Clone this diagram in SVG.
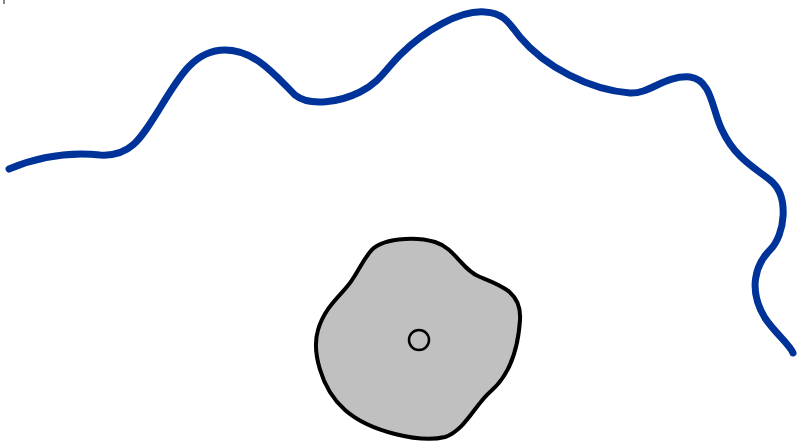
<svg xmlns="http://www.w3.org/2000/svg" width="799" height="444" viewBox="0 0 799 444">
<style>
.river{fill:none;stroke:#003399;stroke-width:7;stroke-linecap:round;stroke-linejoin:round}
.blob{fill:#c0c0c0;stroke:#000;stroke-width:4}
.dot{fill:none;stroke:#000;stroke-width:2.5}
</style>
<rect width="799" height="444" fill="#fff"/>
<line x1="4" y1="0" x2="4" y2="4" stroke="#888" stroke-width="2"/>
<path class="river" d="M9,169 C40,156 70,152 100,155 C130,157 140,140 160,108 C180,75 195,50 225,50 C255,50 275,75 295,95 C310,107 340,102 360,92 C380,82 385,70 400,55 C425,30 460,10 485,12 C505,13 510,25 520,37 C545,67 590,90 630,93 C650,94 665,75 690,77 C712,80 712,110 722,130 C735,158 755,168 770,180 C790,196 785,235 770,250 C755,265 748,290 765,318 C775,333 790,345 793,353"/>
<g id="island">
<path class="blob" d="M370,252 C380,238 415,236 435,242 C455,248 462,270 480,277 C500,285 522,292 520,320 C518,350 510,375 490,392 C475,405 465,430 445,437 C420,443 370,432 345,410 C320,388 312,350 318,330 C325,305 345,292 352,280 C360,268 362,262 370,252 Z"/>
<circle class="dot" cx="419" cy="340" r="10"/>
</g>
</svg>
